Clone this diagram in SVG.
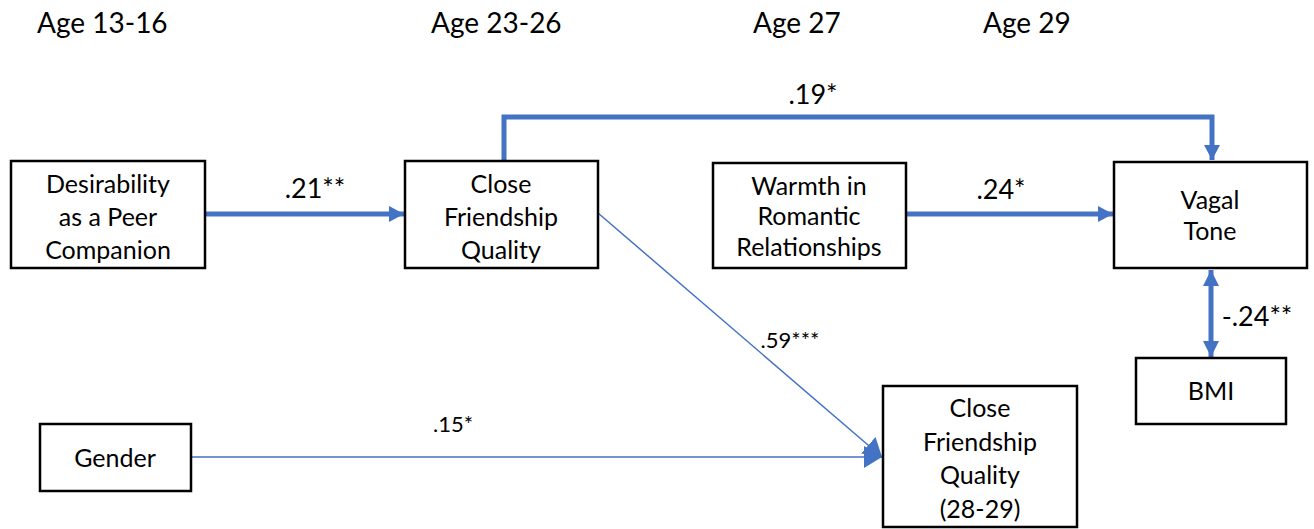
<svg xmlns="http://www.w3.org/2000/svg" width="1314" height="529" viewBox="0 0 1314 529">
<style>
text{font-family:Lato,"Open Sans",sans-serif;fill:#000}
.hd{font-size:28px}
.nt{font-size:25px;text-anchor:middle}
.lb{font-size:27px;text-anchor:middle}
.sl{font-size:22px;text-anchor:middle}
rect{fill:#fff;stroke:#000;stroke-width:2.5}
.thick{fill:none;stroke:#4472C4;stroke-width:5}
.thin{fill:none;stroke:#4472C4;stroke-width:1.5}
</style>
<defs>
<marker id="ah" markerUnits="userSpaceOnUse" markerWidth="16" markerHeight="18" refX="15" refY="9" orient="auto"><path d="M0,1 L15,9 L0,17 Z" fill="#4472C4"/></marker>
<marker id="ahs" markerUnits="userSpaceOnUse" markerWidth="17" markerHeight="18" refX="16" refY="9" orient="auto-start-reverse"><path d="M0,1 L16,9 L0,17 Z" fill="#4472C4"/></marker>
<marker id="ahb" markerUnits="userSpaceOnUse" markerWidth="20" markerHeight="24" refX="18" refY="12" orient="auto"><path d="M0,1 L18,12 L0,23 Z" fill="#4472C4"/></marker>
</defs>
<g id="headers">
<text class="hd" x="37" y="33">Age 13-16</text>
<text class="hd" x="431" y="33">Age 23-26</text>
<text class="hd" x="753" y="33">Age 27</text>
<text class="hd" x="983" y="33">Age 29</text>
</g>
<g id="connectors">
<path class="thick" d="M205,214 L404,214" marker-end="url(#ah)"/>
<path class="thick" d="M504,161 L504,117 L1212,117 L1212,160" marker-end="url(#ah)"/>
<path class="thick" d="M906,214 L1113,214" marker-end="url(#ah)"/>
<path class="thick" d="M1211,270 L1211,357" marker-start="url(#ahs)" marker-end="url(#ahs)"/>
<path class="thin" d="M598,213 L882,457" marker-end="url(#ahb)"/>
<path class="thin" d="M191,457 L882,457" marker-end="url(#ahb)"/>
<text class="lb" x="315" y="198">.21**</text>
<text class="lb" x="813" y="104">.19*</text>
<text class="lb" x="1001" y="199">.24*</text>
<text class="lb" x="1257" y="326">-.24**</text>
<text class="sl" x="790" y="348">.59***</text>
<text class="sl" x="453" y="432">.15*</text>
</g>
<g id="n-desirability">
<rect x="11" y="161" width="194" height="107"/>
<text class="nt" x="108" y="193">Desirability</text>
<text class="nt" x="108" y="226">as a Peer</text>
<text class="nt" x="108" y="259">Companion</text>
</g>
<g id="n-cfq">
<rect x="405" y="161" width="193" height="107"/>
<text class="nt" x="501" y="193">Close</text>
<text class="nt" x="501" y="226">Friendship</text>
<text class="nt" x="501" y="259">Quality</text>
</g>
<g id="n-warmth">
<rect x="713" y="163" width="193" height="105"/>
<text class="nt" x="809" y="195">Warmth in</text>
<text class="nt" x="809" y="225">Romantic</text>
<text class="nt" x="809" y="256">Relationships</text>
</g>
<g id="n-vagal">
<rect x="1114" y="162" width="193" height="106"/>
<text class="nt" x="1210" y="209">Vagal</text>
<text class="nt" x="1210" y="240">Tone</text>
</g>
<g id="n-bmi">
<rect x="1136" y="358" width="150" height="66"/>
<text class="nt" x="1211" y="400">BMI</text>
</g>
<g id="n-gender">
<rect x="40" y="424" width="151" height="67"/>
<text class="nt" x="115" y="467">Gender</text>
</g>
<g id="n-cfq2">
<rect x="883" y="386" width="194" height="141"/>
<text class="nt" x="980" y="417">Close</text>
<text class="nt" x="980" y="451">Friendship</text>
<text class="nt" x="980" y="484">Quality</text>
<text class="nt" x="980" y="518">(28-29)</text>
</g>
</svg>
